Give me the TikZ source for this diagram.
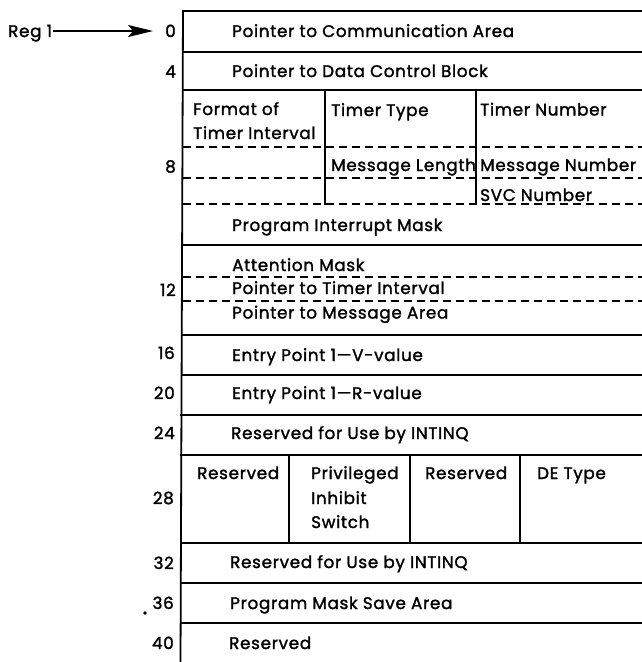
\documentclass[tikz,border=0pt]{standalone}
\usepackage{fontspec}
\setmainfont{Poppins}[FakeBold=1.6,LetterSpace=4]
\usetikzlibrary{arrows.meta}
\newcommand{\fsz}{\fontsize{16.8}{19}\selectfont}
\tikzset{
  txt/.style={anchor=base west, inner sep=0pt, font=\fsz},
  lbl/.style={anchor=base east, inner sep=0pt, font=\fsz},
  rule/.style={line width=1.8pt, line cap=rect},
  dline/.style={line width=1.6pt, dash pattern=on 8pt off 5pt},
  regarrow/.style={line width=1.4pt, -{Stealth[length=25pt,width=12pt,inset=5pt]}}
}
\begin{document}
\begin{tikzpicture}[x=1pt,y=-1pt]
\useasboundingbox (0,0) rectangle (642,662);
% left border
\draw[rule] (183,11) -- (180.5,662);
% solid horizontal rules
\foreach \yy/\xx in {11/183,52/183,90/182.7,245/182,335/181.7,375/181.5,415/181.3,455/181.2,543/180.8,583/180.7,623/180.6}
  \draw[rule] (\xx,\yy) -- (642,\yy);
% dashed rules
\foreach \yy in {147,178,204,277,301}
  \draw[dline] (182.5,\yy) -- (642,\yy);
% verticals in timer block
\draw[rule] (325,90) -- (325,204);
\draw[rule] (476,90) -- (476,204);
% verticals in row 28
\draw[rule] (289,455) -- (289,543);
\draw[rule] (410,455) -- (410,543);
\draw[rule] (520,455) -- (520,543);

% offset labels
\node[lbl] (o0) at (176,37) {0};
\node[lbl] (o4) at (176,77.5) {4};
\node[lbl] (o8) at (176,172.5) {8};
\node[lbl] (o12) at (176,296) {12};
\node[lbl] (o16) at (175,359) {16};
\node[lbl] (o20) at (175,399) {20};
\node[lbl] (o24) at (175,439) {24};
\node[lbl] (o28) at (174,504) {28};
\node[lbl] (o32) at (174,569) {32};
\node[lbl] (o36) at (174,609) {36};
\node[lbl] (o40) at (174,649) {40};
\fill (145,613) circle (1.8pt);

% register pointer
\node[txt] (reg) at (8,37) {Reg 1};
\draw[regarrow] ([xshift=1pt]reg.east |- 0,31) -- ([xshift=-12pt]o0.west |- 0,31);

% field texts
\node[txt] (f0) at (232,37) {Pointer to Communication Area};
\node[txt] (f4) at (232,77) {Pointer to Data Control Block};
\node[txt] (fmt1) at (193,115) {Format of};
\node[txt] (fmt2) at (193,139) {Timer Interval};
\node[txt] (ttype) at (331,116) {Timer Type};
\node[txt] (tnum) at (480,115.5) {Timer Number};
\node[txt] (mlen) at (331,171) {Message Length};
\node[txt] (mnum) at (480,171) {Message Number};
\node[txt] (svc) at (480,201) {SVC Number};
\node[txt] (pim) at (232,231) {Program Interrupt Mask};
\node[txt] (att) at (232,271) {Attention Mask};
\node[txt] (pti) at (232,294) {Pointer to Timer Interval};
\node[txt] (pma) at (232,318.5) {Pointer to Message Area};
\node[txt] (epv) at (232,361) {Entry Point 1---V-value};
\node[txt] (epr) at (232,399) {Entry Point 1---R-value};
\node[txt] (int1) at (231,439) {Reserved for Use by INTINQ};
\node[txt] (res1) at (197,479) {Reserved};
\node[txt] (priv1) at (311,479) {Privileged};
\node[txt] (priv2) at (311,504) {Inhibit};
\node[txt] (priv3) at (311,528) {Switch};
\node[txt] (res2) at (425,479) {Reserved};
\node[txt] (de) at (537,479) {DE Type};
\node[txt] (int2) at (230,568) {Reserved for Use by INTINQ};
\node[txt] (pmsa) at (230,609) {Program Mask Save Area};
\node[txt] (res3) at (229,649) {Reserved};
\end{tikzpicture}
\end{document}
